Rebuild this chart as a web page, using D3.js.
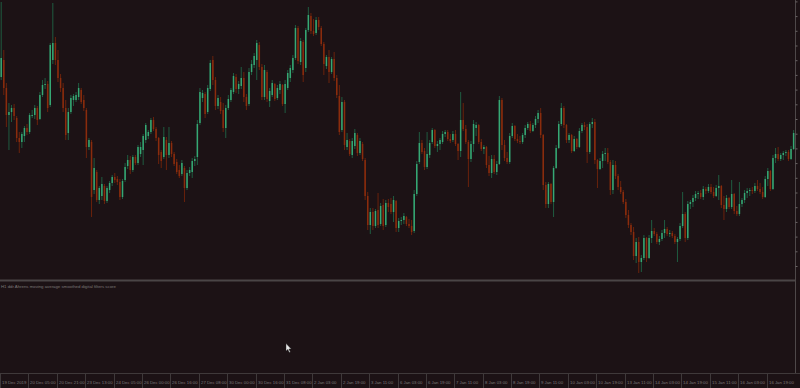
<!DOCTYPE html>
<html><head><meta charset="utf-8">
<script src="https://cdn.jsdelivr.net/npm/d3@7"></script>
<style>html,body{margin:0;padding:0;background:#1c1215;overflow:hidden}svg{display:block}</style>
</head><body>
<script>
// EURUSD-like H1 candles; prices given in pips above 1.1000
const openP = [223,240,212,185,188,192,182,162,158,164,172,168,185,185,192,181,205,215,216,195,240,257,240,222,212,192,167,188,200,200,203,210,200,190,153,158,110,128,100,104,114,99,110,117,123,121,118,103,120,134,140,130,143,137,146,150,160,164,168,180,171,162,148,143,160,145,157,146,138,130,126,132,112,127,128,139,143,177,202,206,188,211,240,220,194,198,190,172,192,200,208,223,211,214,222,203,196,228,235,240,255,233,203,228,199,205,216,202,210,215,196,212,222,230,242,272,238,258,232,270,284,269,267,280,272,256,234,243,228,241,222,204,170,198,153,159,145,154,165,147,156,140,104,75,88,74,90,76,95,75,97,96,88,99,72,79,80,83,76,74,69,106,138,157,149,133,145,158,170,154,156,158,166,168,161,160,166,156,149,180,171,158,141,156,172,175,158,151,153,135,127,141,128,136,200,155,142,138,164,174,161,159,158,165,172,176,169,175,181,187,165,115,96,116,98,132,152,176,192,175,160,165,149,161,153,169,175,173,148,176,178,140,131,139,146,147,138,110,135,124,113,108,98,85,75,68,44,58,38,42,62,42,62,69,66,58,61,67,71,66,67,64,58,61,74,86,62,96,98,102,106,107,103,111,109,113,108,104,112,114,95,91,102,93,106,89,86,96,100,107,109,110,109,114,111,108,103,121,129,111,142,146,141,145,147,148,141,151];
const highP = [298,250,217,197,195,196,184,168,168,174,176,187,190,195,194,208,220,222,219,257,297,263,250,226,217,200,192,205,206,208,217,212,205,192,162,160,142,130,114,123,116,114,119,125,127,124,121,121,137,145,144,145,145,155,158,166,177,170,182,183,173,163,150,173,163,173,159,148,141,135,140,134,130,133,142,144,180,212,210,208,215,240,244,223,205,203,197,195,205,212,227,226,219,233,228,206,232,240,247,260,258,236,235,230,212,220,217,215,219,216,220,230,235,245,275,274,262,260,272,293,287,281,283,283,274,258,245,250,243,248,225,215,203,200,167,161,162,171,167,162,158,142,108,92,92,91,107,97,101,100,101,102,104,100,82,83,87,84,81,80,110,139,168,160,152,168,160,172,171,159,162,169,170,170,166,169,170,157,208,197,175,160,159,180,178,176,161,155,154,144,145,145,139,204,202,160,148,167,177,175,166,164,167,175,178,179,177,184,190,192,166,118,118,117,134,155,179,197,194,176,167,166,164,162,172,177,178,176,178,182,181,141,142,149,152,152,140,140,139,126,119,110,101,90,77,73,62,63,45,65,63,65,80,72,68,64,70,80,73,70,69,66,63,77,108,88,99,100,105,109,109,110,114,113,116,116,113,115,125,115,104,105,103,120,107,94,118,102,110,112,112,113,117,120,117,113,124,132,130,145,152,153,147,149,150,150,154,170];
const lowP = [220,205,173,150,178,180,158,147,152,158,165,166,182,181,175,180,203,211,188,193,236,235,218,208,188,160,160,186,194,198,200,196,189,142,150,83,106,98,96,100,96,97,107,114,117,115,100,101,118,131,126,128,135,135,143,135,157,161,166,169,159,136,132,141,130,142,143,134,126,122,124,98,110,124,122,134,135,175,198,182,186,209,215,190,191,186,168,162,190,198,206,207,206,211,198,190,194,225,232,220,230,200,200,198,193,203,199,200,206,194,187,210,218,227,240,236,235,218,228,268,266,264,265,270,254,225,231,217,226,219,202,165,168,150,150,144,142,151,144,145,139,100,70,66,70,72,72,74,70,73,88,86,78,68,68,75,76,74,72,65,67,104,136,146,130,131,142,156,152,148,150,156,163,159,157,158,154,140,143,169,156,113,138,148,164,156,149,146,132,124,122,126,125,135,150,139,136,136,162,159,157,156,156,162,170,167,168,172,177,162,110,92,92,96,83,131,151,174,172,157,157,147,148,151,152,167,170,137,146,172,136,112,130,132,139,136,105,106,121,110,106,96,82,72,65,40,37,27,28,40,38,41,57,64,56,55,59,62,64,63,62,56,38,59,72,58,60,91,93,99,101,101,100,106,107,106,102,103,100,92,80,88,91,91,86,84,84,93,97,102,104,106,107,109,106,101,102,114,109,110,137,139,139,140,144,139,140,150];
const closeP = [242,212,185,188,192,184,162,158,166,172,168,185,185,192,180,205,215,216,192,255,257,240,222,212,192,165,188,202,204,205,212,198,192,153,160,103,132,100,112,116,99,112,117,123,120,118,103,119,133,140,130,143,137,153,153,164,175,168,180,171,162,145,139,163,145,157,146,136,128,124,137,112,127,130,139,141,176,208,207,186,212,237,220,194,202,189,172,192,201,210,224,211,216,222,203,194,228,236,244,257,233,203,230,201,209,217,201,212,216,196,216,227,232,242,272,239,259,225,270,285,269,266,280,273,256,236,243,228,241,222,205,168,198,155,160,146,159,167,147,159,141,104,75,88,74,89,75,94,74,97,93,88,100,72,79,80,84,76,74,68,106,136,157,148,133,146,157,170,154,156,160,166,168,161,159,166,156,149,180,171,158,141,156,176,175,158,151,153,135,127,141,128,136,200,155,142,138,164,174,161,159,158,165,172,176,169,175,181,187,165,115,96,116,98,132,152,176,192,175,160,165,149,161,153,169,175,173,148,176,178,140,131,139,146,147,138,110,135,124,113,108,98,85,75,68,44,58,38,42,62,42,62,69,66,58,61,67,71,66,67,64,58,61,74,86,62,96,98,102,106,107,103,111,109,113,108,104,112,114,95,91,102,93,106,89,86,96,100,107,109,110,109,114,111,108,103,121,129,111,142,146,141,145,147,148,141,151,167];
const tickLabels = ["19 Dec 2019","20 Dec 05:00","20 Dec 21:00","23 Dec 13:00","24 Dec 05:00","26 Dec 00:00","26 Dec 16:00","27 Dec 08:00","30 Dec 00:00","30 Dec 16:00","31 Dec 08:00","2 Jan 03:00","2 Jan 19:00","3 Jan 11:00","6 Jan 03:00","6 Jan 19:00","7 Jan 11:00","8 Jan 03:00","8 Jan 19:00","9 Jan 11:00","10 Jan 03:00","10 Jan 19:00","13 Jan 11:00","14 Jan 03:00","14 Jan 19:00","15 Jan 11:00","16 Jan 03:00","16 Jan 19:00"];
const tickBars = [0,11,22,33,44,55,66,77,88,99,110,121,132,143,154,165,176,187,198,209,220,231,242,253,264,275,286,297];
const indicatorName = "H1 ddr Ahrens moving average smoothed digital filters score";

const W = 800, H = 388, plotR = 795, mainB = 279, axisY = 373;
const svg = d3.select("body").append("svg").attr("width", W).attr("height", H);
svg.append("rect").attr("width", W).attr("height", H).attr("fill", "#1c1215");

const bars = openP.map((o, i) => ({i, o, h: highP[i], l: lowP[i], c: closeP[i]}));
const x = d3.scaleLinear().domain([0, bars.length]).range([0, plotR]);
const y = d3.scaleLinear().domain([21, 300]).range([mainB, 0]);

const g = svg.append("g");
// wicks
g.selectAll("line.w").data(bars).join("line")
  .attr("x1", d => x(d.i) + 1.2).attr("x2", d => x(d.i) + 1.2)
  .attr("y1", d => y(d.h)).attr("y2", d => y(d.l))
  .attr("stroke", d => d.c >= d.o ? "#1f5c40" : "#6a220c").attr("stroke-width", 1);
// bodies
g.selectAll("rect.b").data(bars).join("rect")
  .attr("x", d => x(d.i) + 0.45).attr("width", 1.5)
  .attr("y", d => y(Math.max(d.o, d.c)))
  .attr("height", d => Math.max(1, Math.abs(y(d.o) - y(d.c))))
  .attr("fill", d => d.c >= d.o ? "#36a874" : "#8a2c0d");

// separator between main and sub window
svg.append("rect").attr("x", 0).attr("y", 279.5).attr("width", plotR).attr("height", 2).attr("fill", "#4a4546");
svg.append("text").attr("x", 1).attr("y", 288).text(indicatorName)
  .attr("font-family", "Liberation Sans, Arial, sans-serif").attr("font-size", 4.3).attr("fill", "#7d7878");

// right price axis line with tick marks (its labels lie outside the window)
svg.append("line").attr("x1", plotR + 0.5).attr("x2", plotR + 0.5).attr("y1", 0).attr("y2", axisY)
  .attr("stroke", "#4e4849").attr("stroke-width", 1);
const yAx = svg.append("g").attr("transform", `translate(${plotR + 0.5},0)`)
  .call(d3.axisRight(y).tickValues(d3.range(34, 300, 14.7)).tickSize(2).tickFormat(""));
yAx.select(".domain").remove();
yAx.selectAll("line").attr("stroke", "#6a6465");

// time axis
svg.append("line").attr("x1", 0).attr("x2", W).attr("y1", axisY + 0.5).attr("y2", axisY + 0.5)
  .attr("stroke", "#3f393a").attr("stroke-width", 1);
const tg = svg.append("g");
tickBars.forEach((b, k) => {
  const tx = Math.round(x(b)) + 0.5;
  tg.append("line").attr("x1", tx).attr("x2", tx).attr("y1", axisY + 1).attr("y2", H)
    .attr("stroke", "#3f393a").attr("stroke-width", 1);
  tg.append("text").attr("x", tx + 1.5).attr("y", 383.5).text(tickLabels[k])
    .attr("font-family", "Liberation Sans, Arial, sans-serif").attr("font-size", 4.3).attr("fill", "#7d7878");
});

// mouse pointer from the screenshot
svg.append("path").attr("d", "M286,343.5 L286,351 L287.8,349.4 L289.3,352.6 L290.4,352.1 L288.9,349 L291.3,349 Z")
  .attr("fill", "#e8e8e8").attr("stroke", "#222").attr("stroke-width", 0.4);
</script>
</body></html>
